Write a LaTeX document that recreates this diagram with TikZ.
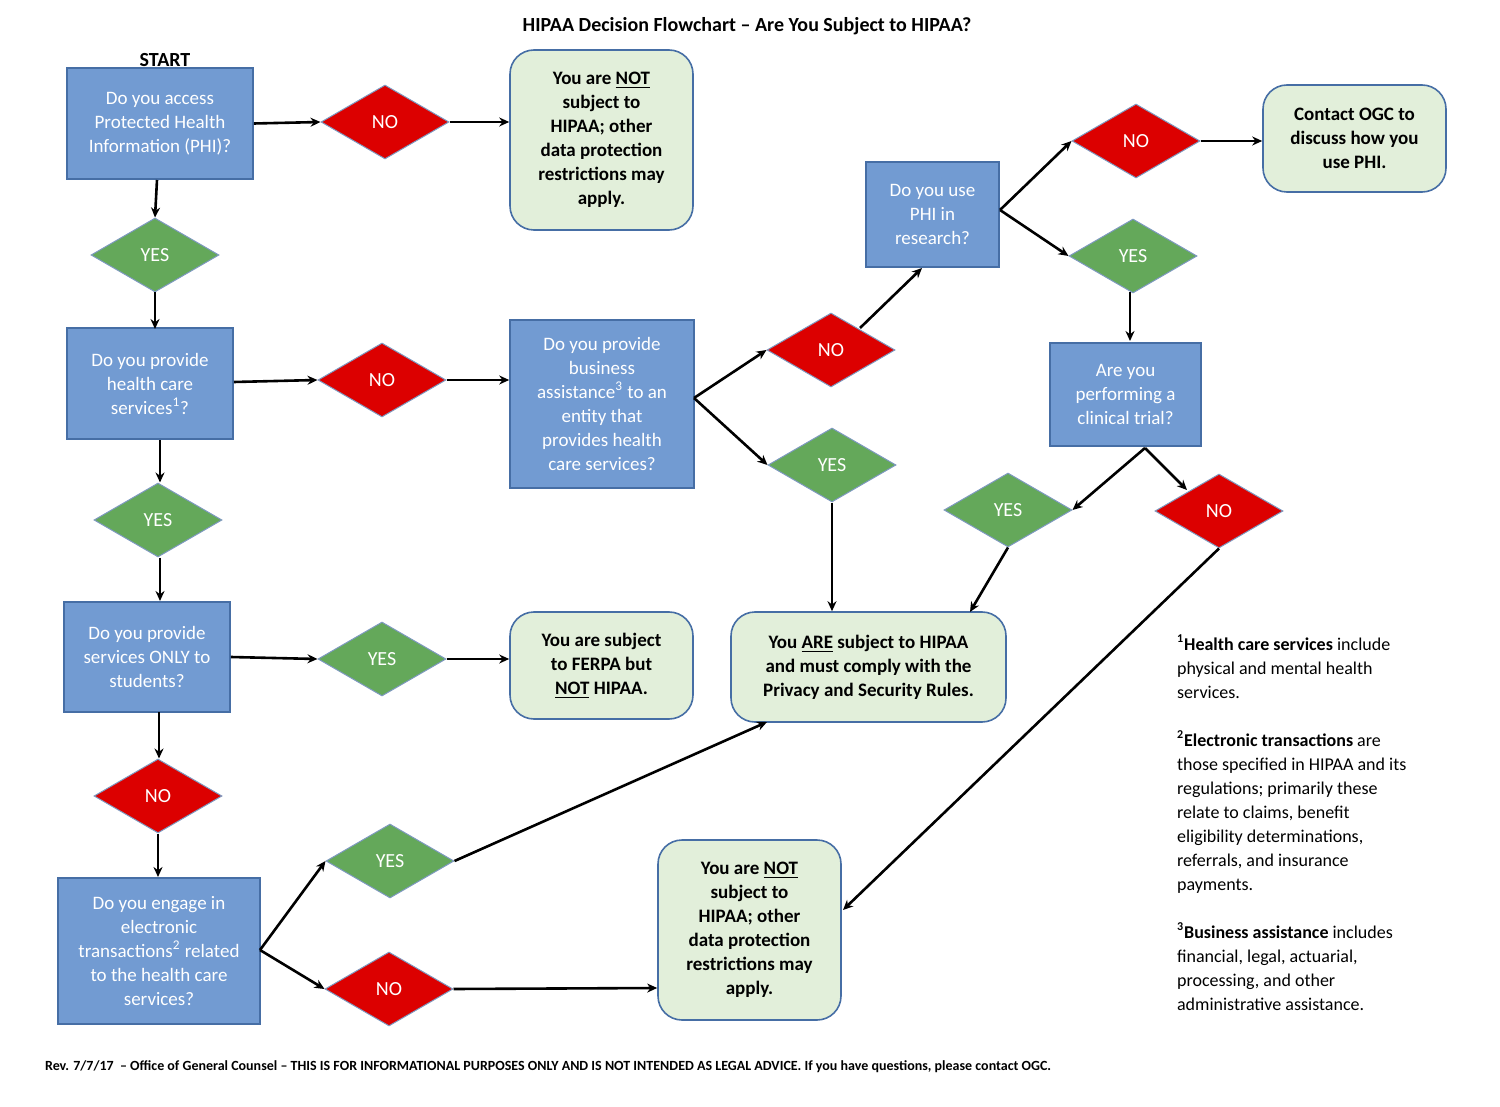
\documentclass[tikz,border=0pt]{standalone}
\usepackage{fontspec}
\setmainfont{Carlito}
\usetikzlibrary{shapes.geometric,arrows.meta}
\definecolor{bfill}{RGB}{114,155,210}
\definecolor{bline}{RGB}{70,110,165}
\definecolor{rfill}{RGB}{220,0,0}
\definecolor{gfill}{RGB}{100,168,90}
\definecolor{tfill}{RGB}{226,239,218}
\begin{document}
\begin{tikzpicture}[x=0.5pt,y=-0.5pt,
  txt/.style={font=\fontsize{9.5}{12}\selectfont,align=center},
  box/.style={txt,draw=bline,fill=bfill,line width=0.8pt,text=white,inner sep=0,minimum width=#1},
  term/.style={txt,draw=bline,fill=tfill,line width=0.8pt,rounded corners=12pt,font=\fontsize{9.5}{12}\selectfont\bfseries,inner sep=0},
  dia/.style={diamond,aspect=1.75,draw=bline!70,line width=0.5pt,inner sep=0,minimum width=64pt,minimum height=37pt,text=white,font=\fontsize{10}{12}\selectfont},
  no/.style={dia,fill=rfill},
  yes/.style={dia,fill=gfill},
  arr/.style={-{Stealth[length=5pt,width=4.5pt]},line width=1.3pt}]
\useasboundingbox (0,0) rectangle (1500,1107);
\node[font=\fontsize{10}{12}\selectfont\bfseries] (title) at (747,26) {HIPAA Decision Flowchart -- Are You Subject to HIPAA?};
\node[font=\fontsize{10}{12}\selectfont\bfseries] (start) at (165,60) {START};
% boxes
\node[box=93pt,minimum height=55.5pt] (b1) at (160,123.5) {Do you access\\Protected Health\\Information (PHI)?};
\node[box=83pt,minimum height=55.5pt] (b2) at (150,383.5) {Do you provide\\health care\\services\textsuperscript{1}?};
\node[box=92pt,minimum height=84pt] (b3) at (602,404) {Do you provide\\business\\assistance\textsuperscript{3} to an\\entity that\\provides health\\care services?};
\node[box=66.5pt,minimum height=52.5pt] (b4) at (932.5,214.5) {Do you use\\PHI in\\research?};
\node[box=75.5pt,minimum height=51.5pt] (b5) at (1125.5,394.5) {Are you\\performing a\\clinical trial?};
\node[box=83pt,minimum height=55pt] (b6) at (147,657) {Do you provide\\services ONLY to\\students?};
\node[box=101pt,minimum height=73pt] (b7) at (159,951) {Do you engage in\\electronic\\transactions\textsuperscript{2} related\\to the health care\\services?};
% terminals
\node[term,minimum width=91.5pt,minimum height=90pt] (t1) at (601.5,140) {You are \underline{NOT}\\subject to\\HIPAA; other\\data protection\\restrictions may\\apply.};
\node[term,minimum width=91.5pt,minimum height=53.5pt] (t4) at (1354.5,138.5) {Contact OGC to\\discuss how you\\use PHI.};
\node[term,minimum width=137.5pt,minimum height=55pt] (t2) at (868.5,667) {You \underline{ARE} subject to HIPAA\\and must comply with the\\Privacy and Security Rules.};
\node[term,minimum width=91.5pt,minimum height=53.5pt] (t3) at (601.5,665.5) {You are subject\\to FERPA but\\\underline{NOT} HIPAA.};
\node[term,minimum width=91.5pt,minimum height=90pt] (t5) at (749.5,930) {You are \underline{NOT}\\subject to\\HIPAA; other\\data protection\\restrictions may\\apply.};
% diamonds
\node[no] (d1) at (385,122) {NO};
\node[yes] (y1) at (155,255) {YES};
\node[no] (d2) at (382,380) {NO};
\node[no] (d3) at (831,350) {NO};
\node[yes] (y3) at (832,465) {YES};
\node[no] (d4) at (1136,141) {NO};
\node[yes] (y4) at (1133,256) {YES};
\node[yes] (y5) at (1008,510) {YES};
\node[no] (d5) at (1219,511) {NO};
\node[yes] (y2) at (158,520) {YES};
\node[yes] (y6) at (382,659) {YES};
\node[no] (d6) at (158,796) {NO};
\node[yes] (y7) at (390,861) {YES};
\node[no] (d7) at (389,989) {NO};
% coordinates
\coordinate (b3r) at (694,398);
\coordinate (b4r) at (1000,210);
\coordinate (b5b) at (1145,448);
\coordinate (d3t) at (860,328);
\coordinate (b4b) at (922,268);
\coordinate (d5t) at (1187,490);
\coordinate (t2a) at (970,612);
\coordinate (t2b) at (767,722);
\coordinate (t5e) at (843,910);
\coordinate (b7r) at (260,950);
% arrows
\draw[arr] (b1.east) -- (d1.west);
\draw[arr] (d1.east) -- (t1.west |- d1.east);
\draw[arr] (157,180) -- (y1.north);
\draw[arr] (y1.south) -- (155,329);
\draw[arr] (b2.east |- 0,382) -- (d2.west);
\draw[arr] (d2.east) -- (b3.west |- d2.east);
\draw[arr] (b3r) -- (d3.west);
\draw[arr] (b3r) -- (y3.west);
\draw[arr] (d3t) -- (b4b);
\draw[arr] (b4r) -- (d4.west);
\draw[arr] (b4r) -- (y4.west);
\draw[arr] (d4.east) -- (t4.west |- d4.east);
\draw[arr] (1130,292) -- (1130,341);
\draw[arr] (b5b) -- (y5.east);
\draw[arr] (b5b) -- (d5t);
\draw[arr] (y3.south) -- (t2.north -| y3.south);
\draw[arr] (y5.south) -- (t2a);
\draw[arr] (d5.south) -- (t5e);
\draw[arr] (160,440) -- (y2.north -| 160,0);
\draw[arr] (y2.south -| 160,0) -- (160,601);
\draw[arr] (b6.east) -- (y6.west);
\draw[arr] (y6.east) -- (t3.west |- y6.east);
\draw[arr] (159,712) -- (d6.north -| 159,0);
\draw[arr] (d6.south -| 158,0) -- (158,877);
\draw[arr] (b7r) -- (y7.west);
\draw[arr] (b7r) -- (d7.west);
\draw[arr] (y7.east) -- (t2b);
\draw[arr] (d7.east) -- (t5.west |- 0,988);
% footnotes
\node[anchor=north west,align=left,font=\fontsize{9}{12}\selectfont] (fn1) at (1170,628) {\textsuperscript{\bfseries 1}\textbf{Health care services} include\\physical and mental health\\services.};
\node[anchor=north west,align=left,font=\fontsize{9}{12}\selectfont] (fn2) at (1170,724) {\textsuperscript{\bfseries 2}\textbf{Electronic transactions} are\\those specified in HIPAA and its\\regulations; primarily these\\relate to claims, benefit\\eligibility determinations,\\referrals, and insurance\\payments.};
\node[anchor=north west,align=left,font=\fontsize{9}{12}\selectfont] (fn3) at (1170,916) {\textsuperscript{\bfseries 3}\textbf{Business assistance} includes\\financial, legal, actuarial,\\processing, and other\\administrative assistance.};
\node[anchor=west,font=\fontsize{7}{9}\selectfont\bfseries] (foot) at (38,1067) {Rev. 7/7/17 \ -- Office of General Counsel -- THIS IS FOR INFORMATIONAL PURPOSES ONLY AND IS NOT INTENDED AS LEGAL ADVICE. If you have questions, please contact OGC.};
\end{tikzpicture}
\end{document}
